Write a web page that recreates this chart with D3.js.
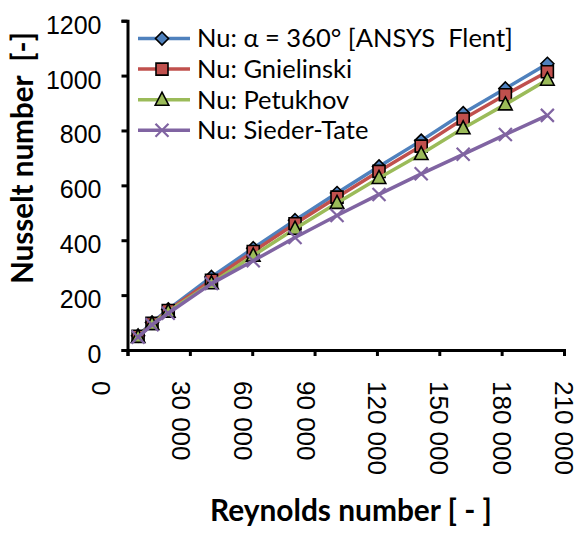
<!DOCTYPE html>
<html>
<head>
<meta charset="utf-8">
<script src="https://cdn.jsdelivr.net/npm/d3@7"></script>
<style>
  html, body { margin: 0; padding: 0; background: #fff; }
  svg { display: block; }
</style>
</head>
<body>
<svg id="chart" width="582" height="533"></svg>
<script>
// Reynolds numbers of the computed cases
const reynolds = [5100, 11800, 19600, 40400, 60500, 80600, 100800, 121000, 141300, 161500, 181800, 202000];

// Nusselt number for each correlation / simulation
const nuAnsys      = [52, 100, 148, 266, 371, 473, 572, 669, 763, 863, 953, 1043];
const nuGnielinski = [50, 97, 144, 254, 359, 460, 557, 651, 743, 842, 930, 1014];
const nuPetukhov   = [48, 95, 140, 243, 344, 442, 536, 627, 714, 808, 895, 985];
const nuSiederTate = [47, 92, 134, 242, 325, 410, 490, 567, 642, 713, 785, 855];

const seriesNames = ["Nu: \u03b1 = 360\u00b0 [ANSYS  Flent]", "Nu: Gnielinski", "Nu: Petukhov", "Nu: Sieder-Tate"];

const xTicks = [0, 30000, 60000, 90000, 120000, 150000, 180000, 210000];
const yTicks = [0, 200, 400, 600, 800, 1000, 1200];

const series = [
  { name: seriesNames[0], values: nuAnsys,      color: "#4F81BD", marker: "diamond" },
  { name: seriesNames[1], values: nuGnielinski, color: "#C0504D", marker: "square" },
  { name: seriesNames[2], values: nuPetukhov,   color: "#9BBB59", marker: "triangle" },
  { name: seriesNames[3], values: nuSiederTate, color: "#8064A2", marker: "cross" }
];

const svg = d3.select("#chart");

const x = d3.scaleLinear().domain([0, 210000]).range([127.5, 564]);
const y = d3.scaleLinear().domain([0, 1200]).range([350, 20.7]);

const fmtThousands = d => d3.format(",")(d).replace(/,/g, " ");

// Scale a text's font size so its advance length equals the given width
function fitText(sel, width) {
  const fs = parseFloat(sel.attr("font-size"));
  const len = sel.node().getComputedTextLength();
  const size = fs * width / len;
  sel.attr("font-size", size);
  return size;
}

// Y axis
const yAxis = svg.append("g")
  .attr("transform", `translate(${x(0)},0)`)
  .call(d3.axisLeft(y).tickValues(yTicks).tickSize(6).tickPadding(20).tickFormat(d3.format("d")));
yAxis.select(".domain").attr("stroke", "#000").attr("stroke-width", 3);
yAxis.selectAll(".tick line").attr("stroke", "#000").attr("stroke-width", 3);
yAxis.selectAll(".tick text")
  .attr("font-family", "'Liberation Sans', Arial, sans-serif")
  .attr("font-size", 25)
  .attr("fill", "#000")
  .attr("dy", "0.5em");

// X axis (labels rotated to read downwards; shorter labels sit a little left of their tick)
const xAxis = svg.append("g")
  .attr("transform", `translate(0,${y(0)})`)
  .call(d3.axisBottom(x).tickValues(xTicks).tickSize(6).tickFormat(fmtThousands));
xAxis.select(".domain").attr("stroke", "#000").attr("stroke-width", 3);
xAxis.selectAll(".tick line").attr("stroke", "#000").attr("stroke-width", 3);
xAxis.selectAll(".tick text")
  .attr("font-family", "'Liberation Sans', Arial, sans-serif")
  .attr("font-size", 26)
  .attr("fill", "#000")
  .attr("text-anchor", "start")
  .attr("x", 0)
  .attr("y", 0)
  .attr("dy", "0.36em")
  .attr("transform", d => {
    const len = fmtThousands(d).length;
    const shift = Math.min(27, (7 - len) * 9);
    return `translate(${-shift},31) rotate(90)`;
  });

// Marker shapes
function markerPath(type) {
  switch (type) {
    case "diamond":  return "M0,-6.5L6.5,0L0,6.5L-6.5,0Z";
    case "square":   return "M-6,-6H6V6H-6Z";
    case "triangle": return "M0,-7.5L6.8,5.5H-6.8Z";
    case "cross":    return "M-6.5,-6.5L6.5,6.5M-6.5,6.5L6.5,-6.5";
  }
}

function drawMarker(g, s) {
  const p = g.append("path").attr("d", markerPath(s.marker));
  if (s.marker === "cross") {
    p.attr("fill", "none").attr("stroke", s.color).attr("stroke-width", 2.2);
  } else {
    p.attr("fill", s.color).attr("stroke", "#000").attr("stroke-width", 1.6);
  }
}

const line = d3.line()
  .x((d, i) => x(reynolds[i]))
  .y(d => y(d));

const plot = svg.append("g");
series.forEach(s => {
  const g = plot.append("g");
  g.append("path")
    .attr("d", line(s.values))
    .attr("fill", "none")
    .attr("stroke", s.color)
    .attr("stroke-width", 3.5)
    .attr("stroke-linejoin", "round");
  s.values.forEach((v, i) => {
    const m = g.append("g").attr("transform", `translate(${x(reynolds[i])},${y(v)})`);
    drawMarker(m, s);
  });
});

// Legend
const legend = svg.append("g").attr("transform", "translate(138,38.5)");
const legendTexts = [];
series.forEach((s, i) => {
  const row = legend.append("g").attr("transform", `translate(0,${i * 30.6})`);
  row.append("line")
    .attr("x1", 0).attr("x2", 52)
    .attr("stroke", s.color).attr("stroke-width", 3.5);
  const m = row.append("g").attr("transform", "translate(24,0)");
  drawMarker(m, s);
  legendTexts.push(row.append("text")
    .attr("x", 59)
    .attr("dy", "0.35em")
    .attr("font-family", "Lato, 'Open Sans', sans-serif")
    .attr("font-size", 25)
    .attr("fill", "#000")
    .style("white-space", "pre")
    .text(s.name));
});
const legendSize = fitText(legendTexts[0], 316);
legendTexts.forEach(t => t.attr("font-size", legendSize));

// Axis titles
const yTitle = svg.append("text")
  .attr("transform", "translate(33,158) rotate(-90)")
  .attr("text-anchor", "middle")
  .attr("font-family", "Lato, 'Open Sans', sans-serif")
  .attr("font-weight", "bold")
  .attr("font-size", 26)
  .attr("fill", "#000")
  .style("white-space", "pre")
  .text("Nusselt number  [-]");
fitText(yTitle, 252);

const xTitle = svg.append("text")
  .attr("x", 351)
  .attr("y", 521)
  .attr("text-anchor", "middle")
  .attr("font-family", "Lato, 'Open Sans', sans-serif")
  .attr("font-weight", "bold")
  .attr("font-size", 30)
  .attr("fill", "#000")
  .text("Reynolds number [ - ]");
fitText(xTitle, 282);
</script>
</body>
</html>
